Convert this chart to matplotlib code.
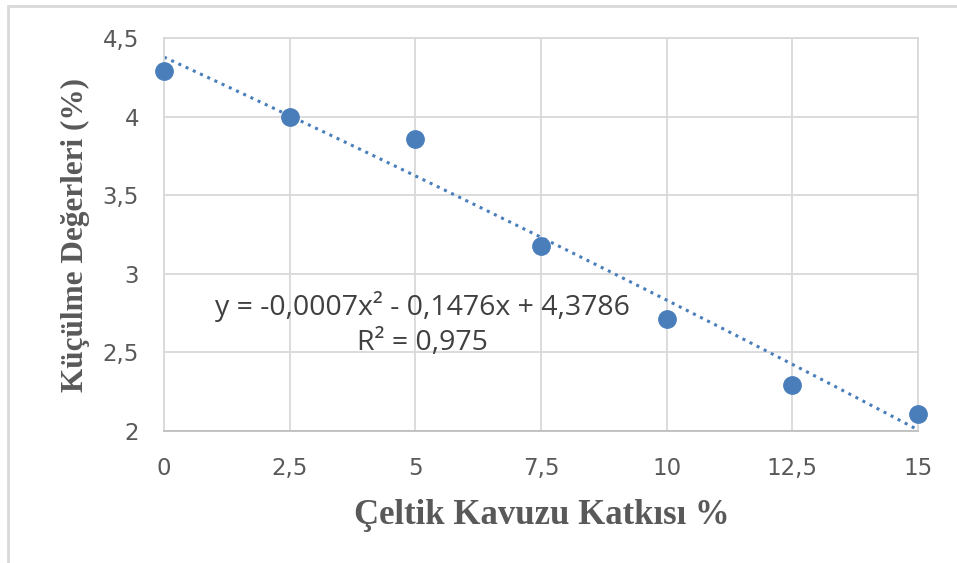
import numpy as np
import matplotlib.pyplot as plt
from matplotlib.patches import Rectangle

# data
katki = [0, 2.5, 5, 7.5, 10, 12.5, 15]
kuculme = [4.29, 4.00, 3.86, 3.18, 2.71, 2.29, 2.11]
# trendline coefficients as printed on the chart (a*x^2 + b*x + c)
trend_coef = [-0.0007, -0.1476, 4.3786]
xticks = [0, 2.5, 5, 7.5, 10, 12.5, 15]
xtick_labels = ["0", "2,5", "5", "7,5", "10", "12,5", "15"]
yticks = [2, 2.5, 3, 3.5, 4, 4.5]
ytick_labels = ["2", "2,5", "3", "3,5", "4", "4,5"]

blue = "#4a7ebb"
grid_c = "#d9d9d9"

fig = plt.figure(figsize=(9.57, 5.63), dpi=100)
ax = fig.add_axes([164/957, 1-431/563, (918-164)/957, (431-38)/563])

# outer chart frame
fig.patches.append(Rectangle((8/957, -0.05), 1.0, 1-6/563+0.05, transform=fig.transFigure,
                             fill=False, edgecolor=grid_c, linewidth=2))

xs = np.linspace(0, 15, 100)
ax.plot(xs, np.polyval(trend_coef, xs), linestyle=(0, (1, 1.6)), color=blue, linewidth=2.2, zorder=2)
ax.plot(katki, kuculme, 'o', color=blue, markersize=12.5, zorder=3, clip_on=False)

ax.set_xlim(0, 15)
ax.set_ylim(2, 4.5)
ax.set_xticks(xticks)
ax.set_xticklabels(xtick_labels)
ax.set_yticks(yticks)
ax.set_yticklabels(ytick_labels)
ax.tick_params(length=0, labelsize=16.5, labelcolor="#595959")
ax.tick_params(axis='y', pad=18)
ax.tick_params(axis='x', pad=19)
ax.grid(True, color=grid_c, linewidth=1.3)
ax.set_axisbelow(True)
for s in ax.spines.values():
    s.set_color(grid_c)
    s.set_linewidth(1.3)
ax.spines['bottom'].set_color("#bfbfbf")

ax.set_xlabel("Çeltik Kavuzu Katkısı %", family="Liberation Serif", fontweight="bold",
              fontsize=25, color="#595959")
ax.set_ylabel("Küçülme Değerleri (%)", family="Liberation Serif", fontweight="bold",
              fontsize=22.5, color="#595959")
ax.xaxis.set_label_coords(0.5006, -0.214)
ax.yaxis.set_label_coords(-0.118, 0.499)
ax.xaxis.get_label().set_va("center")
ax.yaxis.get_label().set_va("center")

ax.text(5.14, 2.68, "y = -0,0007x² - 0,1476x + 4,3786\nR² = 0,975", ha="center", va="center",
        fontsize=20.5, color="#404040", family="Open Sans", linespacing=1.3)

fig.savefig("out.png", dpi=100)
